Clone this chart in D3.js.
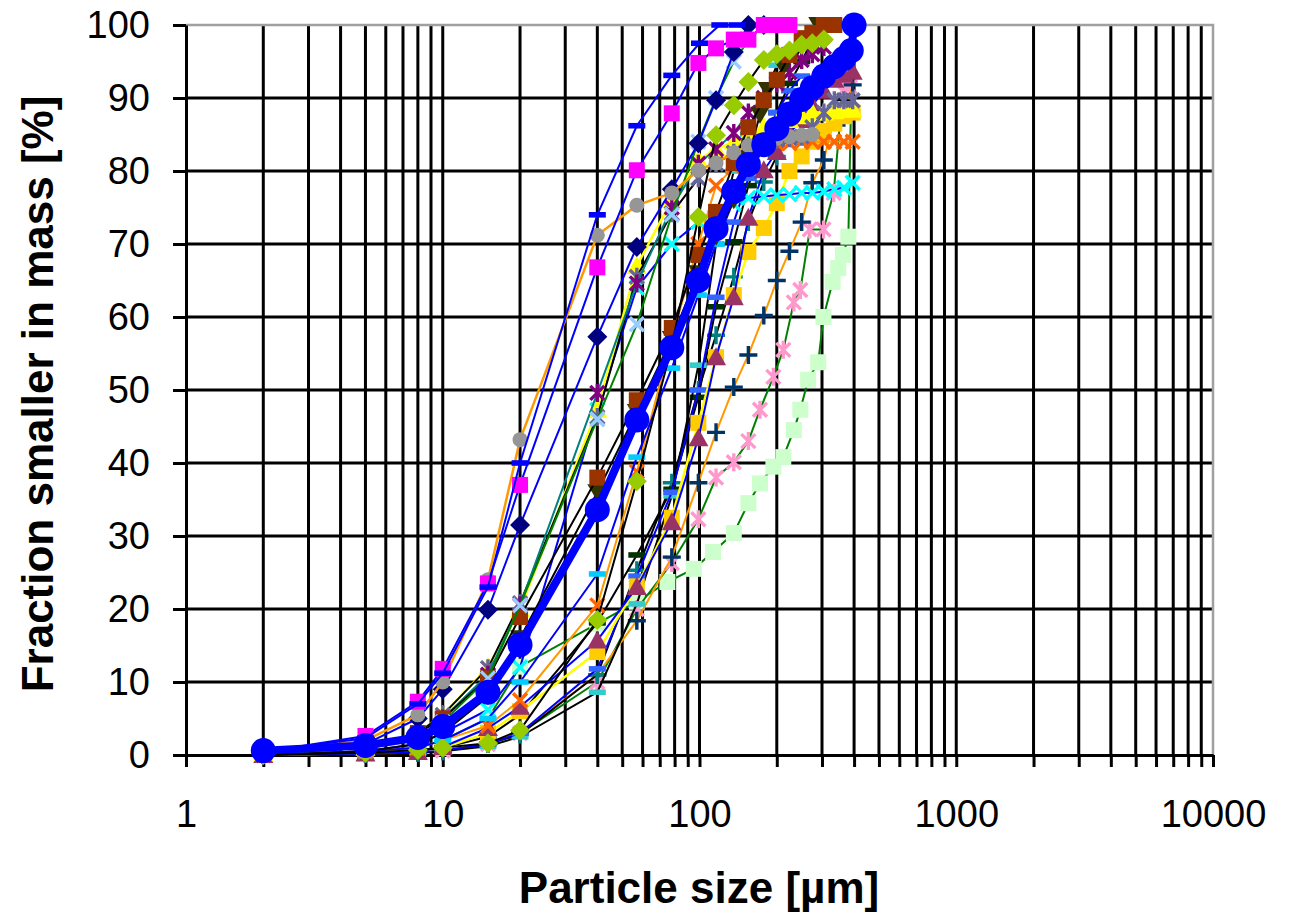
<!DOCTYPE html>
<html lang="en">
<head>
<meta charset="utf-8">
<script src="https://cdn.jsdelivr.net/npm/d3@7/dist/d3.min.js"></script>
<style>
    body { margin: 0; background: #fff; }
    svg { display: block; font-family: "Liberation Sans", Arial, sans-serif; }
</style>
</head>
<body>
<svg width="1296" height="914"></svg>
<script>
    // particle size [µm] , fraction smaller [%]
    var blueBig = [[2,0.6],[5,1.3],[8,2.4],[10,3.9],[15,8.6],[20,15.1],[40,33.6],[57,45.9],[78,55.8],[99,65],[116,72.1],[136,77.2],[155,80.9],[178,83.6],[200,85.8],[224,87.8],[250,89.8],[275,91.4],[305,93],[335,94.3],[365,95.4],[390,96.5],[400,100]];
    var blueDash = [[2,0.5],[5,2.3],[8,7],[10,11.2],[15,23],[20,40],[40,74],[57,86.2],[78,93.1],[100,97.5],[120,100],[140,100]];
    var magentaSq = [[2,0.4],[5,2.6],[8,7.3],[10,11.8],[15,23.5],[20,37],[40,66.8],[57,80.1],[78,87.9],[99,94.8],[116,96.8],[136,98],[155,98],[178,100],[200,100],[224,100]];
    var grayCirc = [[2,0.3],[5,2],[8,5.5],[10,10],[15,24],[20,43.2],[40,71.2],[57,75.3],[78,77],[99,80.1],[116,81.1],[136,82.5],[155,83.5],[178,84.2],[200,84.5],[224,84.7],[250,84.9],[275,85]];
    var navyDiam = [[5,1.5],[8,5],[10,9],[15,19.9],[20,31.5],[40,57.3],[57,69.6],[78,77.5],[99,83.8],[116,89.7],[136,96.3],[155,100],[178,100]];
    var lightBlueX = [[5,0.8],[8,2.5],[10,4.5],[15,10.5],[20,20.5],[40,46],[57,59],[78,74],[99,84],[116,90],[136,95],[155,97.9],[178,100],[200,100],[224,100]];
    var yGreenDiam = [[2,0],[5,0.3],[8,0.7],[10,1],[15,1.6],[20,3.4],[40,18.5],[57,37.5],[78,56],[99,73.7],[116,84.9],[136,89],[155,92.2],[178,95.2],[200,96],[224,96.5],[250,97.3],[275,97.5],[305,98]];
    var brownSq = [[2,0.3],[5,1],[8,3],[10,5],[15,10.5],[20,18.9],[40,38],[57,48.6],[78,58.5],[99,68.5],[116,74.4],[136,81.1],[155,86],[178,89.7],[200,92.5],[224,95.9],[250,98.2],[275,98.9],[305,100],[335,100]];
    var darkOlive = [[2,0],[5,0.5],[8,1.5],[10,3],[15,8],[20,16],[40,36],[57,47],[78,57],[99,66],[116,71],[136,76],[155,82],[172,87.7],[184,91.1],[212,94.2],[269,97.7],[290,100]];
    var goldSq = [[2,0],[5,0.3],[8,0.5],[10,1],[15,3],[20,6],[40,14.1],[57,23.1],[78,32.5],[99,45.5],[116,54.5],[136,63],[155,68.9],[178,72.2],[200,75.6],[224,80],[250,82],[275,84],[305,85.5],[335,86.5],[365,87.5],[395,88]];
    var mauveTri = [[2,0],[5,0.2],[8,0.4],[10,1.1],[15,3.7],[20,6.6],[40,15.7],[57,23],[78,31.9],[99,43.4],[116,54.5],[136,62.7],[155,73.6],[178,80.1],[200,82.6],[224,85.2],[250,87],[275,89],[305,91],[335,92.5],[365,93.2],[395,93.6]];
    var navyPlus = [[2,0],[5,0.2],[8,0.3],[10,0.5],[15,1.6],[20,3],[40,11],[57,18.4],[78,27.1],[99,37.3],[116,44.2],[136,50.4],[155,54.8],[178,60.2],[200,65],[224,69],[250,73],[275,78.4],[305,81.5],[335,87.3],[365,87.3],[395,91.8]];
    var orangeX = [[2,0],[5,0.5],[8,1],[10,2],[15,4],[20,7.5],[40,20.5],[57,38.8],[78,57],[99,70],[116,78],[136,80.5],[155,82],[178,83.5],[200,83.8],[224,83.8],[250,84],[275,84],[305,84],[335,84],[365,84],[395,84]];
    var cyanX = [[2,0],[5,0.5],[8,1.5],[10,3],[15,6.2],[20,12],[40,47.3],[57,64],[78,70],[99,73],[116,74.4],[136,75.5],[155,76.3],[178,76.5],[200,76.7],[224,76.8],[250,77],[275,77],[305,77.2],[335,77.5],[365,77.7],[395,78.4]];
    var purpleAst = [[2,0],[5,1],[8,3],[10,5],[15,11],[20,20.5],[40,49.6],[57,64.6],[78,75],[99,81],[116,83],[136,85.2],[155,88],[178,90],[200,92],[224,93.5],[250,95.2],[275,96],[305,97]];
    var slateAst = [[5,1],[8,3],[10,5.5],[15,11.9],[20,20.8],[40,46.3],[57,65.5],[78,74.2],[99,79],[116,81],[136,82.5],[155,83.5],[178,84],[200,84.3],[224,84.5],[250,84.7],[275,86],[305,88],[335,89.7],[365,89.7],[395,89.7]];
    var lightGreenSq = [[2,0],[5,0.5],[8,1],[10,2],[15,5],[20,12.1],[40,18],[57,21],[75,23.7],[95,25.5],[113,27.8],[136,30.4],[155,34.5],[172,37.2],[194,39.5],[212,40.8],[233,44.5],[247,47.3],[265,51.4],[290,53.8],[304,60],[330,64.8],[347,66.7],[362,68.5],[380,71],[395,100]];
    var pinkAst = [[2,0],[5,0.2],[8,0.4],[10,0.6],[15,1.5],[20,3],[40,10],[57,20],[78,26.3],[99,32.3],[116,38],[136,40.1],[155,43],[172,47.3],[194,51.8],[212,55.5],[233,62],[247,63.7],[269,72],[304,72],[333,77],[362,91],[385,91.5]];
    var darkDash = [[2,0],[5,0.3],[8,0.5],[10,1],[15,2.5],[20,5.5],[40,18.1],[57,27.4],[78,36.4],[99,49],[116,61.4],[136,70.3],[155,78],[178,84],[200,88],[224,92],[250,95],[275,98],[305,100]];
    var tealPlus = [[2,0],[5,0.2],[8,0.3],[10,0.5],[15,1.5],[20,2.8],[40,11],[57,25.3],[78,37.3],[99,50],[116,57.5],[136,65.5],[155,73],[178,78.5],[200,82],[224,85],[250,88],[275,91],[305,93],[335,95]];
    var royalDash = [[2,0],[5,0.2],[8,0.4],[10,0.6],[15,1.5],[20,3],[40,11.8],[57,24.5],[78,36],[99,50],[116,62.7],[136,73],[155,79],[178,84],[200,88],[224,91],[250,93]];
    var tealDash = [[2,0],[5,0.2],[8,0.3],[10,0.5],[15,1.2],[20,2.5],[40,8.6],[57,20.7],[78,35.5],[99,53.4],[116,70],[136,80],[155,85],[178,90],[200,94.5],[224,96],[250,97]];
    var cyanDash = [[2,0],[5,0.5],[8,1],[10,2],[15,5],[20,10],[40,24.8],[57,40.8],[78,53],[99,63],[116,70],[136,76],[155,80],[178,83],[200,85]];
    var yellowTri = [[2,0.3],[5,1],[8,3],[10,5.5],[15,12],[20,20],[40,47.3],[57,67],[78,76],[99,81.5],[116,83],[136,84],[155,85],[178,86],[200,86.5],[224,87],[250,87.5],[275,88],[305,88],[335,88.2],[365,88.4],[395,88.4]];

    var yTicks = [0,10,20,30,40,50,60,70,80,90,100];
    var xMajor = [1,10,100,1000,10000];

    // drawing order, marker look and line colour of every series
    var series = [
        {pts: lightGreenSq, m: "square", fill: "#CCFFCC", line: "#008000", w: 2},
        {pts: pinkAst, m: "ast", fill: "#FF99CC", line: "#008000", w: 2},
        {pts: navyPlus, m: "plus", fill: "#003366", line: "#FF9900", w: 2},
        {pts: tealPlus, m: "plus", fill: "#008080", line: "#000000", w: 2},
        {pts: darkDash, m: "dash", fill: "#003300", line: "#000000", w: 2},
        {pts: tealDash, m: "dash", fill: "#33CCCC", line: "#000000", w: 2},
        {pts: royalDash, m: "dash", fill: "#3366FF", line: "#0000FF", w: 2},
        {pts: goldSq, m: "square", fill: "#FFCC00", line: "#FFFF00", w: 2.5},
        {pts: mauveTri, m: "triangle", fill: "#993366", line: "#0000FF", w: 2},
        {pts: cyanX, m: "x", fill: "#00FFFF", line: "#0000FF", w: 2},
        {pts: orangeX, m: "x", fill: "#FF6600", line: "#FF9900", w: 2},
        {pts: cyanDash, m: "dash", fill: "#00CCFF", line: "#0000FF", w: 2},
        {pts: yellowTri, m: "triangle", fill: "#FFFF00", line: "#FFFF00", w: 2.5},
        {pts: slateAst, m: "ast", fill: "#666699", line: "#000000", w: 2},
        {pts: purpleAst, m: "ast", fill: "#800080", line: "#008080", w: 2},
        {pts: darkOlive, m: "tridown", fill: "#333300", line: "#000000", w: 2},
        {pts: brownSq, m: "square", fill: "#993300", line: "#000000", w: 2},
        {pts: yGreenDiam, m: "diamond", fill: "#99CC00", line: "#000000", w: 2},
        {pts: lightBlueX, m: "x", fill: "#99CCFF", line: "#008000", w: 2},
        {pts: navyDiam, m: "diamond", fill: "#000080", line: "#0000FF", w: 2},
        {pts: grayCirc, m: "circle", fill: "#969696", line: "#FF9900", w: 2.5},
        {pts: magentaSq, m: "square", fill: "#FF00FF", line: "#0000FF", w: 2},
        {pts: blueDash, m: "dash", fill: "#0000FF", line: "#0000FF", w: 2},
        {pts: blueBig, m: "bigcircle", fill: "#0000FF", line: "#0000FF", w: 8}
    ];

    var plotL = 186, plotR = 1213, plotT = 25, plotB = 755;
    var svg = d3.select("svg");
    svg.append("rect").attr("width", 1296).attr("height", 914).attr("fill", "#fff");

    var x = d3.scaleLog().domain([1, 10000]).range([plotL, plotR]);
    var y = d3.scaleLinear().domain([0, 100]).range([plotB, plotT]);

    // every 1..9 step in each decade
    var xAll = [];
    for (var p = 1; p <= 1000; p *= 10) {
        for (var k = 1; k < 10; k++) xAll.push(k * p);
    }
    xAll.push(10000);

    // grid
    var grid = svg.append("g");
    grid.selectAll(".vg").data(xAll.filter(d => d > 1 && d < 10000)).enter().append("line")
        .attr("x1", d => x(d)).attr("x2", d => x(d))
        .attr("y1", plotT).attr("y2", plotB)
        .attr("stroke", "#000").attr("stroke-width", 3);
    grid.selectAll(".hg").data(yTicks.filter(d => d > 0 && d < 100)).enter().append("line")
        .attr("x1", plotL).attr("x2", plotR)
        .attr("y1", d => y(d)).attr("y2", d => y(d))
        .attr("stroke", "#000").attr("stroke-width", 3);
    // plot border top / right
    grid.append("path")
        .attr("d", "M" + plotL + "," + plotT + "H" + plotR + "V" + plotB)
        .attr("fill", "none").attr("stroke", "#A0A0A0").attr("stroke-width", 2.5);

    // axes
    var yAxis = d3.axisLeft(y).tickValues(yTicks).tickSize(13).tickSizeOuter(0).tickPadding(23);
    var xAxis = d3.axisBottom(x).tickValues(xAll).tickSize(12).tickSizeOuter(0).tickPadding(33)
        .tickFormat(d => xMajor.indexOf(d) >= 0 ? String(d) : "");

    var gx = svg.append("g").attr("transform", "translate(0," + plotB + ")").call(xAxis);
    var gy = svg.append("g").attr("transform", "translate(" + plotL + ",0)").call(yAxis);
    [gx, gy].forEach(function (g) {
        g.attr("font-size", null).attr("font-family", null);
        g.selectAll("path.domain").attr("stroke", "#000").attr("stroke-width", 3);
        g.selectAll(".tick line").attr("stroke", "#000").attr("stroke-width", 3);
        g.selectAll(".tick text")
            .style("font-family", "'Liberation Sans', Arial, sans-serif")
            .style("font-size", "38px")
            .attr("fill", "#000");
    });

    // marker shapes
    var shapes = {
        square: "M-8,-8H8V8H-8Z",
        diamond: "M0,-10L10,0L0,10L-10,0Z",
        triangle: "M0,-10L10,8H-10Z",
        tridown: "M0,9L10,-8H-10Z",
        circle: "M7.5,0A7.5,7.5 0 1,1 -7.5,0A7.5,7.5 0 1,1 7.5,0Z",
        bigcircle: "M12.5,0A12.5,12.5 0 1,1 -12.5,0A12.5,12.5 0 1,1 12.5,0Z",
        plus: "M-9,0H9M0,-9V9",
        x: "M-7,-7L7,7M-7,7L7,-7",
        ast: "M-7,-7L7,7M-7,7L7,-7M0,-9V9",
        dash: "M-8.5,-2.8H8.5V2.8H-8.5Z"
    };
    var stroked = {plus: true, x: true, ast: true};

    var line = d3.line().x(d => x(d[0])).y(d => y(d[1]));

    var plot = svg.append("g");
    series.forEach(function (s) {
        var g = plot.append("g");
        g.append("path").datum(s.pts)
            .attr("d", line)
            .attr("fill", "none")
            .attr("stroke", s.line)
            .attr("stroke-width", s.w)
            .attr("stroke-linejoin", "round");
        g.selectAll(".mk").data(s.pts).enter().append("path")
            .attr("transform", d => "translate(" + x(d[0]) + "," + y(d[1]) + ")")
            .attr("d", shapes[s.m])
            .attr("fill", stroked[s.m] ? "none" : s.fill)
            .attr("stroke", stroked[s.m] ? s.fill : "none")
            .attr("stroke-width", stroked[s.m] ? 3.4 : 0);
    });

    // axis titles
    svg.append("text")
        .attr("x", 699).attr("y", 903)
        .attr("text-anchor", "middle")
        .attr("font-size", 44).attr("font-weight", "bold")
        .text("Particle size [µm]");
    svg.append("text")
        .attr("transform", "translate(53,394) rotate(-90)")
        .attr("text-anchor", "middle")
        .attr("font-size", 44).attr("font-weight", "bold")
        .text("Fraction smaller in mass [%]");
</script>
</body>
</html>
